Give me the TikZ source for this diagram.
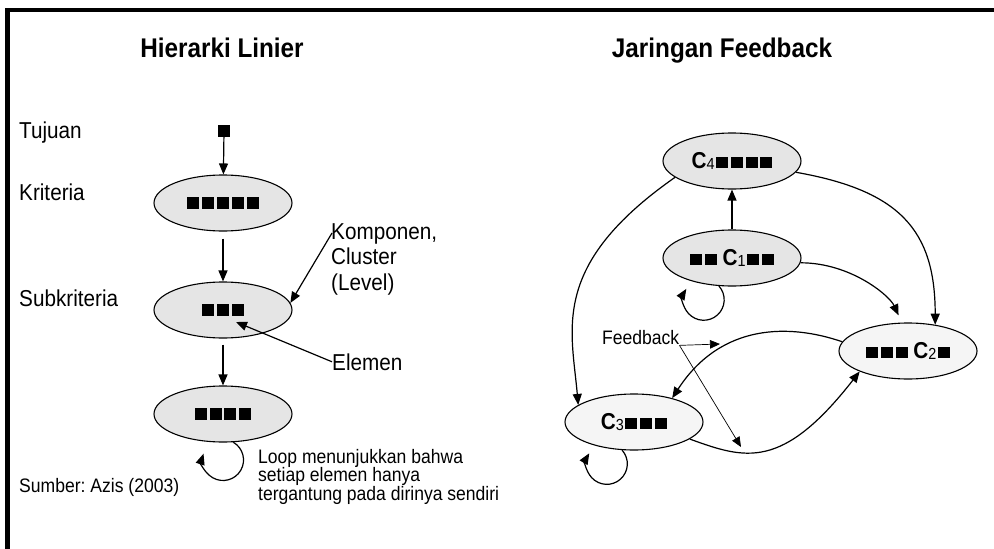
\documentclass[tikz,border=0pt]{standalone}
\usepackage{fontspec}
\setmainfont{Liberation Sans}[FakeStretch=0.9]
\usetikzlibrary{shapes.geometric,arrows.meta}

\newcommand{\blk}{\rule{12pt}{11.5pt}}
\newcommand{\blks}[1]{\blk\foreach \n in {2,...,#1}{\hspace{2.8pt}\blk}}
\newcommand{\csub}[1]{{\bfseries C}\raisebox{-1.5pt}{\fontsize{16}{16}\selectfont #1}\hspace{1.5pt}}

\begin{document}
\begin{tikzpicture}[x=1pt, y=1pt,
  every node/.style={inner sep=0pt, font=\fontsize{23}{25.5}\selectfont},
  ttl/.style={font=\fontsize{27}{30}\selectfont\bfseries, anchor=base},
  note/.style={font=\fontsize{19.5}{18.5}\selectfont},
  level/.style={ellipse, draw, line width=1.1pt, fill=black!10, minimum width=138pt, minimum height=56pt},
  light/.style={level, fill=black!4},
  arr/.style={-{Triangle[length=11pt,width=9pt]}, line width=1.2pt},
  ptr/.style={-{Triangle[length=10pt,width=8.5pt]}, line width=0.7pt}]
  \useasboundingbox (0,0) rectangle (994,-549);
  \draw[line width=4.5pt] (994,-10) -- (7.5,-10) -- (7.5,-549);

  % Hierarki Linier
  \node[ttl] (t1) at (222,-57) {Hierarki Linier};
  \node[anchor=base west] (tuj) at (19,-138) {Tujuan};
  \node[anchor=base west] (kri) at (19,-200) {Kriteria};
  \node[anchor=base west] (subk) at (19,-306) {Subkriteria};
  \node[note, anchor=base west] (src) at (19,-492) {Sumber:\ Azis (2003)};

  \node[fill, minimum size=12pt] (goal) at (224,-131) {};
  \node[level] (krit) at (223,-203) {\blks{5}};
  \node[level] (sub) at (223,-310) {\blks{3}};
  \node[level] (alt) at (223,-414) {\blks{4}};

  \node[anchor=base west, align=left] (komp) at (331,-290) {Komponen,\\Cluster\\(Level)};
  \node[anchor=base west] (elem) at (332,-370) {Elemen};
  \node[note, anchor=base west, align=left] (loopnote) at (258,-500)
    {Loop menunjukkan bahwa\\setiap elemen hanya\\tergantung pada dirinya sendiri};
  \coordinate (kp) at (332,-233);
  \coordinate (ep) at (236,-322);

  \draw[arr] (goal) -- (krit);
  \draw[arr, shorten <=7pt] (krit) -- (sub);
  \draw[arr, shorten <=6pt] (sub) -- (alt);
  \draw[arr] (kp) -- (sub.6);
  \draw[arr] (elem.west) -- (ep);
  \draw[arr] (alt.-70) arc[start angle=60, end angle=-198, radius=20.5pt];

  % Jaringan Feedback
  \node[ttl] (t2) at (722,-57) {Jaringan Feedback};
  \node[level] (c4) at (732,-161) {\csub{4}\blks{4}};
  \node[level] (c1) at (732,-258) {\blks{2} \csub{1}\blks{2}};
  \node[light] (c2) at (908,-351) {\blks{3} \csub{2}\blk};
  \node[light] (c3) at (634,-422) {\csub{3}\blks{3}};
  \node[note, anchor=west] (fb) at (602,-338) {Feedback};
  \coordinate (fb1) at (720,-344);
  \coordinate (fb2) at (741,-447);

  \draw[arr] (c1) -- (c4);
  \draw[arr] (c4.196) .. controls +(215:153) and +(95:77) .. (c3.163);
  \draw[arr] (c4.-10) .. controls +(-10:105) and +(90:95) .. (c2.44);
  \draw[arr, shorten >=8pt] (c1.-4) .. controls +(0:50) and +(115:30) .. (c2.102);
  \draw[arr] (c2.172) .. controls +(161:55) and +(57:90) .. (c3.32);
  \draw[arr] (c3.-17) .. controls +(-20:59) and +(232:126) .. (c2.203);
  \draw[arr] (c1.-115) arc[start angle=42, end angle=-212, radius=20.5pt];
  \draw[arr] (c3.-113) arc[start angle=42, end angle=-211, radius=20.5pt];
  \draw[ptr] (fb.south east) -- (fb1);
  \draw[ptr] (fb.south east) -- (fb2);
\end{tikzpicture}
\end{document}
